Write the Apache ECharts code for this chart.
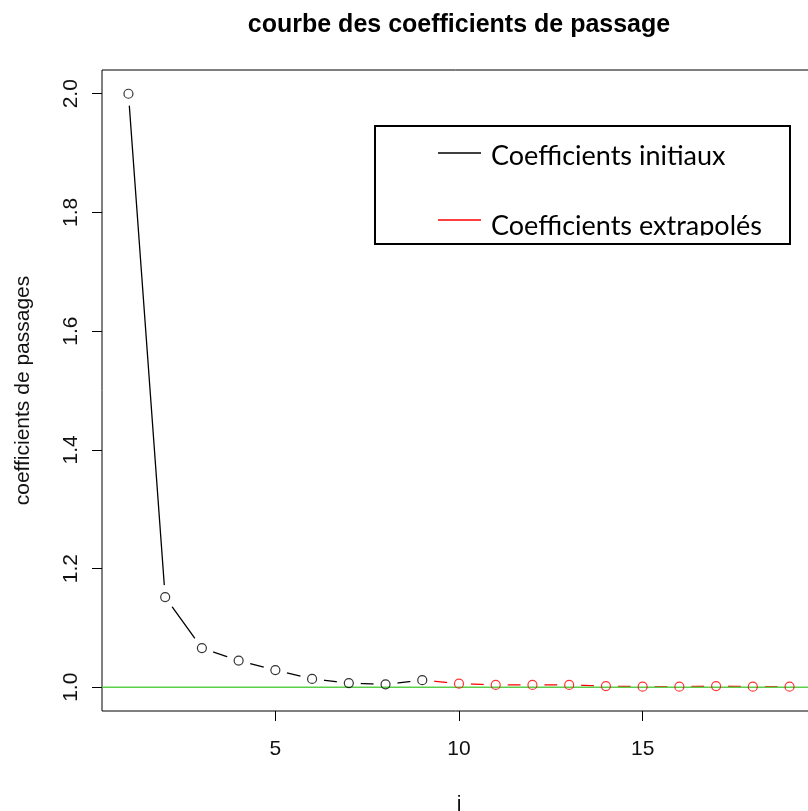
<!DOCTYPE html>
<html>
<head>
<meta charset="utf-8">
<script src="https://cdn.jsdelivr.net/npm/echarts@6/dist/echarts.min.js"></script>
<style>
html,body{margin:0;padding:0;background:#fff;}
#chart{width:808px;height:811px;}
</style>
</head>
<body>
<div id="chart"></div>
<script>
// ---- data ----
const titleText = 'courbe des coefficients de passage';
const xName = 'j';
const yName = 'coefficients de passages';
const legendNames = ['Coefficients initiaux', 'Coefficients extrapolés'];
const jInitial = [1, 2, 3, 4, 5, 6, 7, 8, 9];
const coefInitial = [2.0, 1.152, 1.066, 1.045, 1.029, 1.014, 1.007, 1.005, 1.012];
const jExtrap = [9, 10, 11, 12, 13, 14, 15, 16, 17, 18, 19];
const coefExtrap = [1.012, 1.006, 1.004, 1.004, 1.004, 1.002, 1.001, 1.001, 1.002, 1.001, 1.001];
const xTicks = [5, 10, 15];
const yTicks = [1.0, 1.2, 1.4, 1.6, 1.8, 2.0];
const refLevel = 1.0;
const xRange = [0.28, 19.72];
const yRange = [0.96, 2.04];

// ---- build ----
const initPts = jInitial.map((j, i) => [j, coefInitial[i]]);
const extrapPts = jExtrap.map((j, i) => [j, coefExtrap[i]]);
const extrapMarkers = extrapPts.filter(p => !jInitial.includes(p[0]));
const allPts = initPts.concat(extrapMarkers);

const chart = echarts.init(document.getElementById('chart'), null, {renderer: 'canvas'});
const labelFont = 'Liberation Sans';
const legendFont = 'normal 27px Lato';

chart.setOption({
  animation: false,
  backgroundColor: '#fff',
  title: {
    text: titleText,
    left: 454,
    top: 8,
    textAlign: 'center',
    textStyle: {fontFamily: labelFont, fontWeight: 'bold', fontSize: 25, color: '#000'}
  },
  grid: {
    left: 102, top: 70, right: -8, bottom: 100,
    outerBoundsMode: 'none', containLabel: false,
    show: true, borderColor: '#000', borderWidth: 1, backgroundColor: 'transparent'
  },
  xAxis: {
    type: 'value', min: xRange[0], max: xRange[1],
    name: xName, nameLocation: 'middle', nameGap: 83,
    nameTextStyle: {fontFamily: labelFont, fontSize: 21, color: '#111'},
    axisLine: {show: false},
    splitLine: {show: false},
    axisTick: {show: true, length: 10, customValues: xTicks, lineStyle: {color: '#000', width: 1}},
    axisLabel: {show: true, customValues: xTicks, margin: 28,
      fontFamily: labelFont, fontSize: 21, color: '#111'}
  },
  yAxis: {
    type: 'value', min: yRange[0], max: yRange[1],
    name: yName, nameLocation: 'middle', nameGap: 68, nameRotate: 90,
    nameTextStyle: {fontFamily: labelFont, fontSize: 21, color: '#111'},
    axisLine: {show: false},
    splitLine: {show: false},
    axisTick: {show: true, length: 10, customValues: yTicks, lineStyle: {color: '#000', width: 1}},
    axisLabel: {show: true, customValues: yTicks, rotate: 90, margin: 20,
      formatter: v => Number(v).toFixed(1),
      fontFamily: labelFont, fontSize: 21, color: '#111'}
  },
  series: [
    {
      name: legendNames[0], type: 'line', data: initPts, symbol: 'none', zlevel: 0, z: 2,
      lineStyle: {color: '#000', width: 1.3}, silent: true
    },
    {
      name: legendNames[1], type: 'line', data: extrapPts, symbol: 'none', zlevel: 0, z: 2,
      lineStyle: {color: '#ff0000', width: 1.3}, silent: true
    },
    {
      type: 'scatter', data: allPts, symbol: 'circle', symbolSize: 24, zlevel: 1, z: 1,
      itemStyle: {color: '#ffffff', opacity: 1, borderWidth: 0}, silent: true
    },
    {
      type: 'line', data: [[xRange[0], refLevel], [xRange[1], refLevel]], symbol: 'none', zlevel: 2, z: 1,
      lineStyle: {color: '#5ccf4a', width: 1.6}, silent: true
    },
    {
      type: 'scatter', data: initPts, symbol: 'circle', symbolSize: 9, zlevel: 2, z: 3,
      itemStyle: {color: 'rgba(255,255,255,0)', borderColor: '#000', borderWidth: 1.2}, silent: true
    },
    {
      type: 'scatter', data: extrapMarkers, symbol: 'circle', symbolSize: 9, zlevel: 2, z: 3,
      itemStyle: {color: 'rgba(255,255,255,0)', borderColor: '#ff0000', borderWidth: 1.2}, silent: true
    }
  ],
  graphic: [
    {type: 'rect', zlevel: 3, z: 100, shape: {x: 375, y: 126, width: 415, height: 118},
      style: {fill: '#fff', stroke: null}},
    {type: 'line', zlevel: 3, z: 101, shape: {x1: 438, y1: 153, x2: 481, y2: 153},
      style: {stroke: '#000', lineWidth: 1.5}},
    {type: 'text', zlevel: 3, z: 101, style: {text: legendNames[0], x: 491, y: 156, font: legendFont, fill: '#000',
      textAlign: 'left', textVerticalAlign: 'middle', align: 'left', verticalAlign: 'middle'}},
    {type: 'line', zlevel: 3, z: 101, shape: {x1: 438, y1: 220, x2: 481, y2: 220},
      style: {stroke: '#ff0000', lineWidth: 1.5}},
    {type: 'text', zlevel: 3, z: 101, style: {text: legendNames[1], x: 491, y: 226, font: legendFont, fill: '#000',
      textAlign: 'left', textVerticalAlign: 'middle', align: 'left', verticalAlign: 'middle'}},
    {type: 'rect', zlevel: 3, z: 102, shape: {x: 377, y: 235.5, width: 411, height: 7},
      style: {fill: '#fff', stroke: null}},
    {type: 'rect', zlevel: 3, z: 103, shape: {x: 375, y: 126, width: 415, height: 118},
      style: {fill: null, stroke: '#000', lineWidth: 2}}
  ]
});
</script>
</body>
</html>
